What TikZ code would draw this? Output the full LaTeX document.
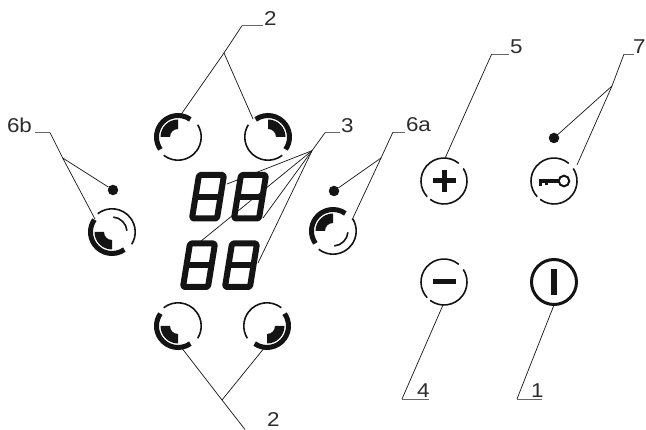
\documentclass[tikz,border=0pt]{standalone}
\usepackage{fontspec}
\setmainfont[FakeStretch=1.12]{Liberation Sans}
\definecolor{ink}{HTML}{141414}
\tikzset{
  x=1pt,y=-1pt,
  leader/.style={draw=ink,line width=0.7pt},
  shelf/.style={draw=ink!65,line width=0.8pt},
  lab/.style={anchor=base west,inner sep=0pt,outer sep=0pt,font=\fontsize{20}{20}\selectfont,text=ink!90},
  thinring/.style={draw=ink,line width=1.6pt},
  thickring/.style={draw=ink,line width=5pt},
  wedgefill/.style={fill=ink,draw=none},
  segment/.style={draw=ink,line width=6pt,rounded corners=1.5pt,line join=round},
  dot/.style={circle,fill=ink,draw=none,inner sep=0pt,minimum size=10.5pt},
  powerring/.style={draw=ink,line width=3pt},
  symbolbar/.style={fill=ink,draw=none},
}
\newcommand{\ringbtn}[4]{%
  \begin{scope}[shift={(#1,#2)},xscale=#3,yscale=#4]
    \draw[thickring] (55:21.5pt) arc[start angle=55,end angle=215,radius=21.5pt];
    \draw[thinring] (232:23.2pt) arc[start angle=232,end angle=392,radius=23.2pt];
    \fill[wedgefill] (90:17.5pt) arc[start angle=90,end angle=180,radius=17.5pt]
      -- (180:8pt) arc[start angle=180,end angle=90,radius=8pt] -- cycle;
  \end{scope}}
\newcommand{\extraarc}[4]{%
  \begin{scope}[shift={(#1,#2)},xscale=#3,yscale=#4]
    \draw[thinring] (-85:15pt) arc[start angle=-85,end angle=-5,radius=15pt];
  \end{scope}}
\newcommand{\gapring}[2]{%
  \begin{scope}[shift={(#1,#2)},yscale=-1]
    \draw[thinring] (127:23pt) arc[start angle=127,end angle=-33,radius=23pt];
    \draw[thinring] (-50:23pt) arc[start angle=-50,end angle=-223,radius=23pt];
  \end{scope}}
\newcommand{\seven}[2]{%
  \begin{scope}[shift={(#1,#2)}]
    \draw[segment] (10,3) -- (35,3) -- (28,46.5) -- (3,46.5) -- cycle;
    \draw[segment] (6.5,24.7) -- (31.5,24.7);
  \end{scope}}
\begin{document}
\begin{tikzpicture}
\useasboundingbox (0,0) rectangle (646,430);
% digits
\seven{189}{172}
\seven{231}{172}
\seven{180}{240.5}
\seven{222}{240.5}
% ring buttons
\ringbtn{178}{137}{1}{1}
\ringbtn{268}{137}{-1}{1}
\ringbtn{178}{326}{1}{-1}
\ringbtn{267}{326}{-1}{-1}
\ringbtn{112}{232}{1}{-1}
\extraarc{112}{232}{1}{-1}
\ringbtn{333}{231}{1}{1}
\extraarc{333}{231}{1}{1}
% plus, minus, key, power
\gapring{444}{181}
\gapring{444}{282}
\gapring{554}{181}
\fill[symbolbar] (432.5,178.5) rectangle (455.5,183.5);
\fill[symbolbar] (441.5,170) rectangle (446.5,192);
\fill[symbolbar] (432.5,279.5) rectangle (455.5,284.5);
% key
\fill[symbolbar] (539,179) rectangle (560,183);
\fill[symbolbar] (539,183) rectangle (542,186);
\fill[symbolbar] (545,183) rectangle (548,185);
\draw[draw=ink,line width=2pt] (564,181) circle[radius=5.3pt];
% power
\draw[powerring] (554,282) circle[radius=22.5pt];
\fill[symbolbar] (551,269) rectangle (557,295);
% dots
\node[dot] (dotB) at (113,190) {};
\node[dot] (dotA) at (334,191) {};
\node[dot] (dotK) at (554,138) {};
% labels
\node[lab] (l2t) at (264,26) {2};
\node[lab] (l2b) at (267,427) {2};
\node[lab] (l3) at (341,133) {3};
\node[lab] (l6b) at (7,133) {6b};
\node[lab] (l6a) at (406,132) {6a};
\node[lab] (l5) at (510,54) {5};
\node[lab] (l7) at (633,54) {7};
\node[lab] (l4) at (417,398) {4};
\node[lab] (l1) at (531,398) {1};
% connector points
\coordinate (k2t) at (242,25.7);
\coordinate (s2t) at (263,25.7);
\coordinate (j2t) at (224,53);
\coordinate (e2a) at (180,116);
\coordinate (e2b) at (253,119);
\coordinate (j2b) at (222,400);
\coordinate (e2c) at (181,347);
\coordinate (e2d) at (265,347);
\coordinate (k2b) at (245,429.5);
\coordinate (k3) at (325,132.7);
\coordinate (s3) at (340,132.7);
\coordinate (j3) at (312,150.7);
\coordinate (e3a) at (227,184);
\coordinate (e3b) at (195,246);
\coordinate (e3c) at (263,218);
\coordinate (e3d) at (258,263);
\coordinate (k6b) at (50,132.7);
\coordinate (s6b) at (35,132.7);
\coordinate (j6b) at (62.7,158);
\coordinate (e6b) at (95,219);
\coordinate (k6a) at (393,132);
\coordinate (s6a) at (405,132);
\coordinate (j6a) at (381,158);
\coordinate (e6a) at (352,220);
\coordinate (k5) at (491.7,54);
\coordinate (s5) at (509,54);
\coordinate (e5) at (445,158.3);
\coordinate (k7) at (624,54);
\coordinate (s7) at (634,54);
\coordinate (j7) at (612,86);
\coordinate (e7) at (577,165);
\coordinate (k4) at (402,399);
\coordinate (s4) at (429,399);
\coordinate (e4) at (443,305);
\coordinate (k1) at (517,399);
\coordinate (s1) at (542,399);
\coordinate (e1) at (554,305);
% shelves
\foreach \a/\b in {k2t/s2t,k3/s3,k6b/s6b,k6a/s6a,k5/s5,k7/s7,k4/s4,k1/s1}
  \draw[shelf] (\a) -- (\b);
% leaders
\draw[leader] (k2t) -- (j2t) -- (e2a);
\draw[leader] (j2t) -- (e2b);
\draw[leader] (k2b) -- (j2b) -- (e2c);
\draw[leader] (j2b) -- (e2d);
\draw[leader] (k3) -- (j3);
\foreach \e in {e3a,e3b,e3c,e3d} \draw[leader] (j3) -- (\e);
\draw[leader] (k6b) -- (j6b) -- (e6b);
\draw[leader] (j6b) -- (dotB);
\draw[leader] (k6a) -- (j6a) -- (e6a);
\draw[leader] (j6a) -- (dotA);
\draw[leader] (k5) -- (e5);
\draw[leader] (k7) -- (j7) -- (e7);
\draw[leader] (j7) -- (dotK);
\draw[leader] (k4) -- (e4);
\draw[leader] (k1) -- (e1);
\end{tikzpicture}
\end{document}
